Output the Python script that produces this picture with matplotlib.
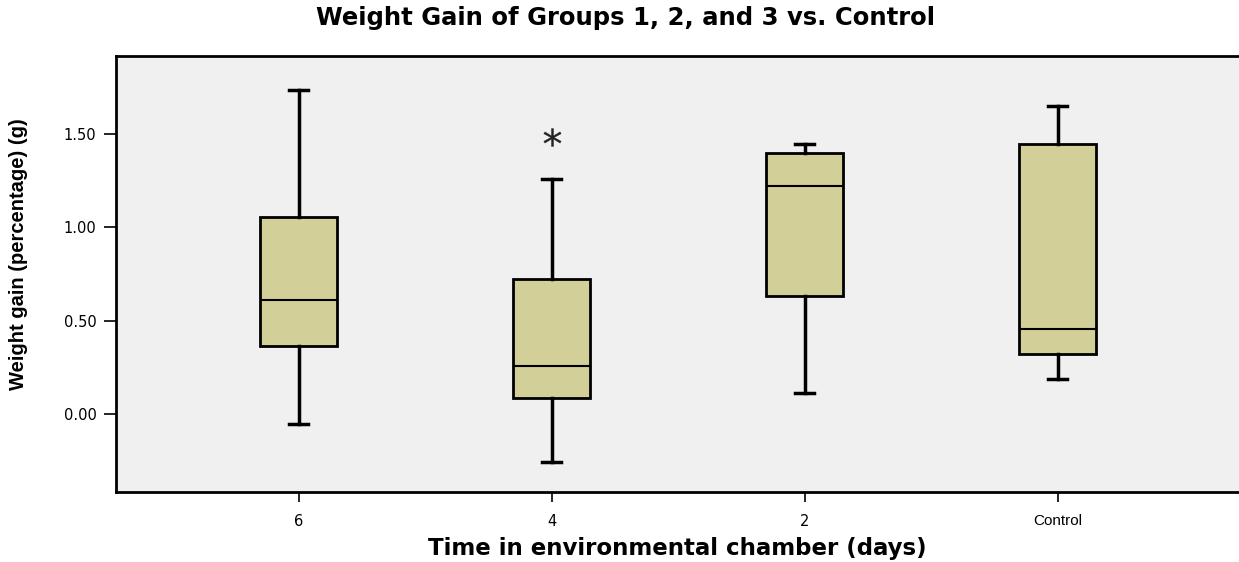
import os
import matplotlib
matplotlib.use("Agg")
import matplotlib.pyplot as plt
from matplotlib.font_manager import FontProperties

# box statistics (g)
groups = ["6", "4", "2", "Control"]
whislo = [-0.052, -0.255, 0.114, 0.187]
q1 = [0.366, 0.084, 0.630, 0.321]
med = [0.609, 0.259, 1.220, 0.455]
q3 = [1.054, 0.721, 1.400, 1.445]
whishi = [1.734, 1.257, 1.446, 1.650]
fliers = [[], [1.485], [], []]

yticks = [0.0, 0.5, 1.0, 1.5]

stats = []
for i in range(len(groups)):
    stats.append(dict(label=groups[i], whislo=whislo[i], q1=q1[i], med=med[i],
                      q3=q3[i], whishi=whishi[i], fliers=fliers[i]))

# plain (not condensed) DejaVu faces shipped with matplotlib
ttf_dir = os.path.join(matplotlib.get_data_path(), "fonts", "ttf")
reg = os.path.join(ttf_dir, "DejaVuSans.ttf")
bold = os.path.join(ttf_dir, "DejaVuSans-Bold.ttf")

fig = plt.figure(figsize=(12.39, 5.62), dpi=100)
ax = fig.add_axes([116 / 1239, 1 - 492 / 562, 1 - 116 / 1239, (492 - 55.5) / 562])
ax.set_facecolor("#F0F0F0")

ax.bxp(stats, positions=[1, 2, 3, 4], widths=0.305, patch_artist=True,
       boxprops=dict(facecolor="#D3CF98", edgecolor="black", linewidth=2),
       medianprops=dict(color="black", linewidth=1.5),
       whiskerprops=dict(color="black", linewidth=2.5),
       capprops=dict(color="black", linewidth=2.5),
       capwidths=0.076,
       flierprops=dict(marker="$*$", markersize=13, markerfacecolor="#222222",
                       markeredgecolor="#222222", markeredgewidth=0.2,
                       linestyle="none"))

ax.set_xlim(0.278, 4.717)
ax.set_ylim(-0.418, 1.920)
ax.set_yticks(yticks)
ax.set_yticklabels(["%.2f" % v for v in yticks],
                   fontproperties=FontProperties(fname=reg, size=10.5))
ax.set_xticks([1, 2, 3, 4])
ax.set_xticklabels(groups, fontproperties=FontProperties(fname=reg, size=10.5))
ax.get_xticklabels()[-1].set_fontproperties(
    FontProperties(family="Liberation Sans", size=11))
ax.tick_params(axis="y", direction="out", length=9, width=1.2, pad=5)
ax.tick_params(axis="x", direction="out", length=7, width=1.2, pad=9)

for s in ["left", "bottom", "top"]:
    ax.spines[s].set_linewidth(2)
ax.spines["right"].set_visible(False)

ax.set_xlabel("Time in environmental chamber (days)",
              fontproperties=FontProperties(fname=bold, size=16.5))
ax.xaxis.set_label_coords(0.5, -0.102)
ax.set_ylabel("Weight gain (percentage) (g)", fontsize=14.5, fontweight="bold",
              family=['Liberation Sans Narrow', 'Liberation Sans'])
ax.yaxis.set_label_coords(-0.078, 0.545)
fig.text(0.505, 1 - 18 / 562, "Weight Gain of Groups 1, 2, and 3 vs. Control",
         ha="center", va="center",
         fontproperties=FontProperties(fname=bold, size=17.5))

fig.savefig("out.png", dpi=100)
